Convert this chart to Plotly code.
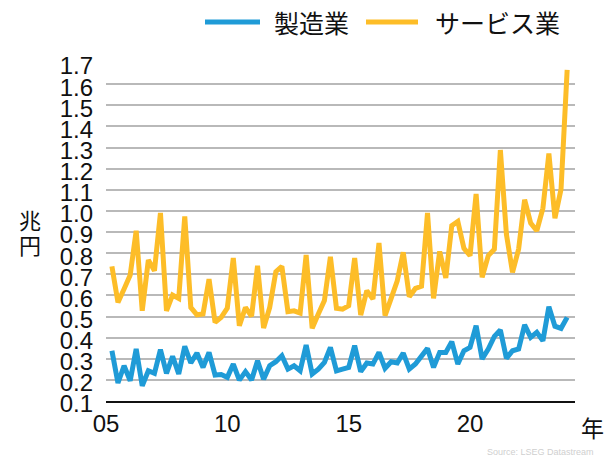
import pandas as pd
import plotly.graph_objects as go

# Quarterly observations, 2005 Q1 .. 2023 Q4 (quarter-end dates)
quarters = pd.date_range("2005-03-31", periods=76, freq="QE").strftime("%Y-%m-%d").tolist()

manufacturing = [
    0.338, 0.185, 0.267, 0.196, 0.346, 0.172, 0.243, 0.231, 0.343, 0.231,
    0.312, 0.228, 0.359, 0.280, 0.327, 0.259, 0.330, 0.223, 0.225, 0.212,
    0.275, 0.199, 0.239, 0.199, 0.291, 0.203, 0.267, 0.286, 0.314, 0.251,
    0.267, 0.243, 0.365, 0.228, 0.251, 0.283, 0.354, 0.243, 0.251, 0.259,
    0.362, 0.239, 0.280, 0.275, 0.330, 0.255, 0.286, 0.280, 0.327, 0.251,
    0.275, 0.312, 0.349, 0.259, 0.330, 0.330, 0.381, 0.275, 0.338, 0.354,
    0.456, 0.299, 0.346, 0.406, 0.436, 0.302, 0.338, 0.346, 0.460, 0.401,
    0.425, 0.385, 0.546, 0.454, 0.444, 0.496,
]

services = [
    0.737, 0.567, 0.630, 0.696, 0.906, 0.527, 0.767, 0.717, 0.990, 0.527,
    0.602, 0.586, 0.974, 0.543, 0.508, 0.512, 0.677, 0.472, 0.496, 0.540,
    0.777, 0.456, 0.543, 0.501, 0.740, 0.445, 0.543, 0.712, 0.737, 0.523,
    0.527, 0.516, 0.791, 0.444, 0.512, 0.575, 0.783, 0.539, 0.535, 0.551,
    0.777, 0.507, 0.622, 0.583, 0.848, 0.504, 0.586, 0.669, 0.804, 0.594,
    0.633, 0.643, 0.990, 0.586, 0.808, 0.682, 0.930, 0.950, 0.823, 0.788,
    1.080, 0.685, 0.788, 0.819, 1.288, 0.890, 0.709, 0.819, 1.053, 0.942,
    0.906, 1.012, 1.272, 0.965, 1.103, 1.668,
]

series_names = ["製造業", "サービス業"]
x_tick_vals = ["2005-01-01", "2010-01-01", "2015-01-01", "2020-01-01"]
x_tick_text = ["05", "10", "15", "20"]
y_tick_vals = [0.1, 0.2, 0.3, 0.4, 0.5, 0.6, 0.7, 0.8, 0.9, 1.0,
               1.1, 1.2, 1.3, 1.4, 1.5, 1.6, 1.7]

BLUE = "#1f9bd7"
ORANGE = "#fdbd28"
FONT = "Liberation Sans, Arial, Noto Sans CJK JP, sans-serif"
CJK = "Noto Sans CJK JP, Liberation Sans, sans-serif"

W, H = 608, 464
L, R, T, B = 106, 33, 63, 63
PW, PH = W - L - R, H - T - B


def fx(px):
    return (px - L) / PW


def fy(py):
    return (H - B - py) / PH


fig = go.Figure()
fig.add_trace(go.Scatter(x=quarters, y=manufacturing, mode="lines",
                         name=series_names[0],
                         line=dict(color=BLUE, width=5)))
fig.add_trace(go.Scatter(x=quarters, y=services, mode="lines",
                         name=series_names[1],
                         line=dict(color=ORANGE, width=5)))

fig.update_layout(
    width=W, height=H,
    margin=dict(l=L, r=R, t=T, b=B, pad=0),
    paper_bgcolor="white", plot_bgcolor="white",
    showlegend=False,
    font=dict(family=FONT, color="#111111"),
    xaxis=dict(
        type="date",
        range=["2005-01-01", "2024-04-27"],
        tickvals=x_tick_vals, ticktext=x_tick_text,
        showgrid=False, zeroline=False,
        showline=True, linecolor="#111111", linewidth=2,
        ticks="", tickfont=dict(size=24, family=FONT, color="#111111"),
    ),
    yaxis=dict(
        range=[0.1, 1.7],
        tickvals=y_tick_vals, tickformat=".1f",
        showgrid=True, gridcolor="#b9b9b9", gridwidth=1.5,
        zeroline=False, showline=False, ticks="",
        ticklabelstandoff=12, ticklabelshift=3,
        tickfont=dict(size=24, family=FONT, color="#111111"),
    ),
)

# Legend drawn manually (long line samples as in the reference)
legend_items = [(205, 260, 272, BLUE, series_names[0]),
                (366, 418, 433, ORANGE, series_names[1])]
for x0, x1, tx, col, name in legend_items:
    fig.add_shape(type="line", xref="paper", yref="paper",
                  x0=fx(x0), x1=fx(x1), y0=fy(22), y1=fy(22),
                  line=dict(color=col, width=5))
    fig.add_annotation(xref="paper", yref="paper", x=fx(tx), y=fy(22),
                       text=name, showarrow=False, xanchor="left", yanchor="middle",
                       font=dict(size=25, family=CJK, color="#111111"))

# Y unit label (stacked vertically)
fig.add_annotation(xref="paper", yref="paper", x=fx(30), y=fy(219), text="兆",
                   showarrow=False, xanchor="center", yanchor="middle",
                   font=dict(size=22, family=CJK, color="#111111"))
fig.add_annotation(xref="paper", yref="paper", x=fx(30), y=fy(244), text="円",
                   showarrow=False, xanchor="center", yanchor="middle",
                   font=dict(size=22, family=CJK, color="#111111"))

# X unit label
fig.add_annotation(xref="paper", yref="paper", x=fx(606), y=fy(427), text="年",
                   showarrow=False, xanchor="right", yanchor="middle",
                   font=dict(size=23, family=CJK, color="#111111"))

# Source
fig.add_annotation(xref="paper", yref="paper", x=fx(596), y=fy(452),
                   text="Source: LSEG Datastream",
                   showarrow=False, xanchor="right", yanchor="middle",
                   font=dict(size=9, family=FONT, color="#cfcfcf"))

fig.write_html(
    "out.html",
    config={"displayModeBar": False},
    post_script="document.body.style.margin='0';document.body.style.overflow='hidden';",
)
